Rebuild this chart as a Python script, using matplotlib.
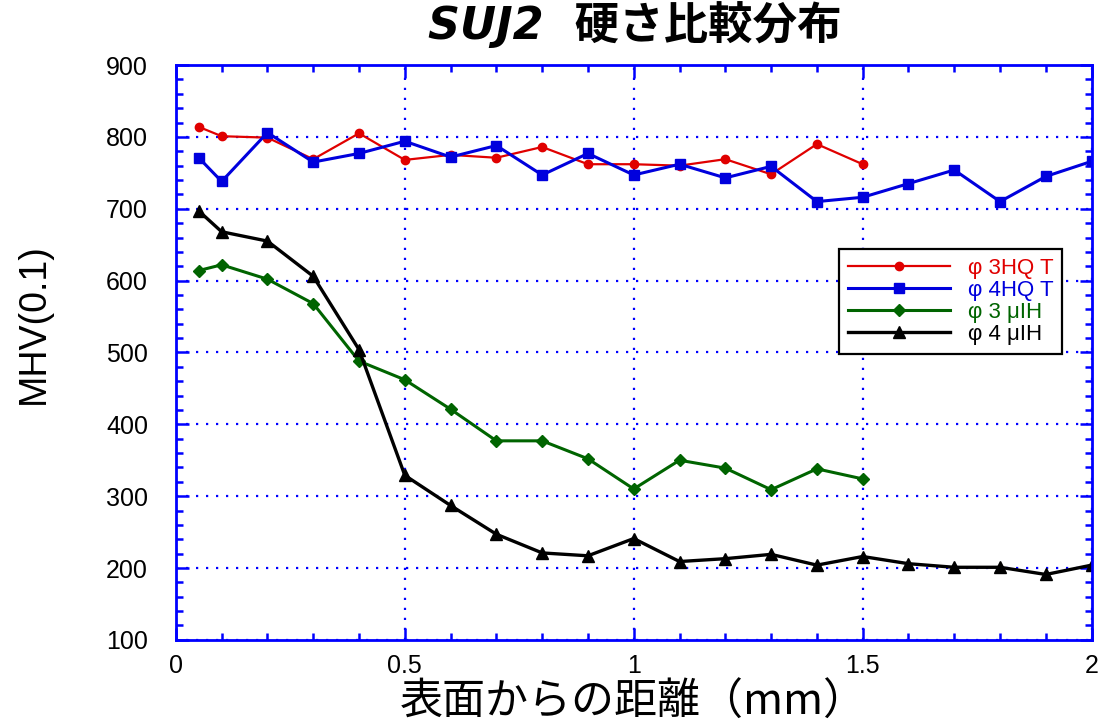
import matplotlib.pyplot as plt
from matplotlib.ticker import MultipleLocator

plt.rcParams['font.family'] = ['Liberation Sans', 'Noto Sans CJK JP', 'DejaVu Sans']

# depth from surface (mm)
x_short = [0.05, 0.1, 0.2, 0.3, 0.4, 0.5, 0.6, 0.7, 0.8, 0.9, 1.0, 1.1, 1.2, 1.3, 1.4, 1.5]
x_long = x_short + [1.6, 1.7, 1.8, 1.9, 2.0]

# MHV(0.1) values
phi3_hqt = [814, 801, 799, 769, 805, 768, 775, 771, 786, 762, 762, 760, 769, 748, 790, 762]
phi4_hqt = [771, 738, 806, 765, 777, 794, 772, 788, 747, 777, 747, 762, 743, 759, 710, 716,
            735, 754, 710, 745, 766]
phi3_uih = [614, 622, 602, 568, 488, 462, 421, 377, 377, 352, 310, 350, 339, 309, 338, 324]
phi4_uih = [697, 668, 655, 606, 504, 329, 287, 247, 221, 217, 241, 209, 213, 219, 204, 216,
            206, 201, 201, 191, 204]

labels = ['φ 3HQ T', 'φ 4HQ T', 'φ 3 μIH', 'φ 4 μIH']
colors = ['#e00000', '#0000dd', '#006400', 'black']

fig = plt.figure(figsize=(11.06, 7.23), dpi=100)
ax = fig.add_axes([0.159, 0.115, 0.828, 0.795])

ax.plot(x_short, phi3_hqt, marker='o', markersize=6, lw=1.6, color=colors[0], label=labels[0])
ax.plot(x_long, phi4_hqt, marker='s', markersize=7, lw=2.2, color=colors[1], label=labels[1])
ax.plot(x_short, phi3_uih, marker='D', markersize=6.5, lw=2.2, color=colors[2], label=labels[2])
ax.plot(x_long, phi4_uih, marker='^', markersize=9, lw=2.4, color=colors[3], label=labels[3])

ax.set_xlim(0, 2)
ax.set_ylim(100, 900)
ax.set_xticks([0, 0.5, 1, 1.5, 2])
ax.set_xticklabels(['0', '0.5', '1', '1.5', '2'])
ax.xaxis.set_minor_locator(MultipleLocator(0.1))
ax.yaxis.set_major_locator(MultipleLocator(100))
ax.yaxis.set_minor_locator(MultipleLocator(20))

ax.grid(True, which='major', color='blue', linestyle=(0, (1, 3.5)), lw=1.6)
for s in ax.spines.values():
    s.set_color('blue')
    s.set_linewidth(2)
ax.tick_params(which='both', direction='in', top=True, right=True, color='blue', width=1.8,
               labelsize=18)
ax.tick_params(axis='y', pad=20)
ax.tick_params(axis='x', pad=10)
ax.tick_params(which='major', length=9)
ax.tick_params(which='minor', length=5)

ax.set_xlabel('表面からの距離（mm）', fontsize=31, family=['Noto Sans CJK JP', 'DejaVu Sans'],
              labelpad=2)
ax.set_ylabel('MHV(0.1)', fontsize=27, labelpad=22)
ax.yaxis.set_label_coords(-0.135, 0.55)
fig.suptitle('SUJ2  硬さ比較分布', x=0.574, y=0.998, fontsize=32, fontweight='bold',
             style='italic', family=['DejaVu Sans', 'Noto Sans CJK JP'])

leg = ax.legend(loc='upper right', bbox_to_anchor=(0.968, 0.680), borderaxespad=0,
                fancybox=False, edgecolor='black', framealpha=1,
                prop={'family': ['Liberation Sans', 'DejaVu Sans'], 'size': 16},
                handlelength=4.6, handletextpad=0.8, borderpad=0.4, labelspacing=0.05)
leg.get_frame().set_linewidth(1.6)
for txt, c in zip(leg.get_texts(), colors):
    txt.set_color(c)

plt.savefig('out.png', dpi=100)
